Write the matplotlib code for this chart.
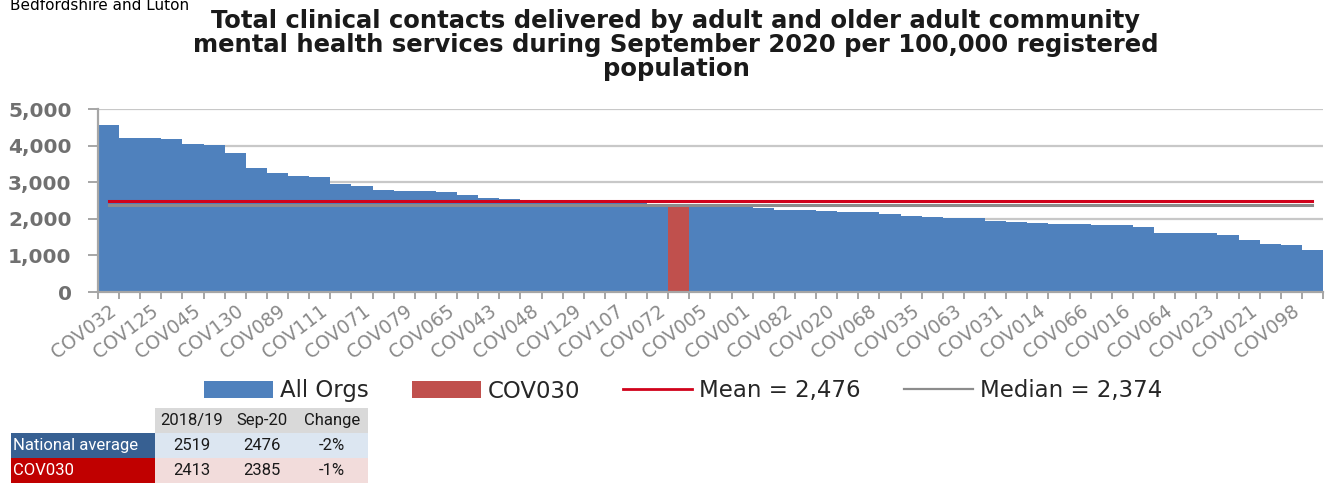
import matplotlib
matplotlib.use("Agg")
import matplotlib.pyplot as plt
from matplotlib import font_manager
from matplotlib.patches import Patch, Rectangle
from matplotlib.lines import Line2D
import numpy as np

# ---- data ----------------------------------------------------------------
values = [4560, 4220, 4200, 4170, 4040, 4010, 3790, 3400, 3240, 3170,
          3140, 2950, 2900, 2790, 2770, 2750, 2720, 2650, 2560, 2530,
          2510, 2490, 2470, 2460, 2440, 2420, 2400, 2385, 2380, 2368,
          2330, 2300, 2240, 2235, 2220, 2190, 2175, 2140, 2085, 2040,
          2030, 2010, 1950, 1910, 1880, 1870, 1850, 1840, 1820, 1780,
          1625, 1610, 1600, 1555, 1425, 1315, 1280, 1140]
tick_labels = ["COV032", "COV125", "COV045", "COV130", "COV089", "COV111",
               "COV071", "COV079", "COV065", "COV043", "COV048", "COV129",
               "COV107", "COV072", "COV005", "COV001", "COV082", "COV020",
               "COV068", "COV035", "COV063", "COV031", "COV014", "COV066",
               "COV016", "COV064", "COV023", "COV021", "COV098"]
highlight_org = "COV030"
highlight_index = 27
mean_value = 2476
median_value = 2374

table_cols = ["2018/19", "Sep-20", "Change"]
table_rows = ["National average", "COV030"]
table_vals = [["2519", "2476", "-2%"],
              ["2413", "2385", "-1%"]]

# ---- styling -------------------------------------------------------------
W, H = 1327, 483
BLUE = "#4f81bd"
RED_BAR = "#c0504d"
MEAN_RED = "#d0021b"
MEDIAN_GREY = "#8c8c8c"
GRID = "#c8c8c8"
AXIS_GREY = "#a6a6a6"

installed = {f.name for f in font_manager.fontManager.ttflist}
narrow = "Liberation Sans Narrow" if "Liberation Sans Narrow" in installed else "Roboto"

fig = plt.figure(figsize=(W / 100, H / 100), dpi=100)

def fx(px):
    return px / W

def fy(py):
    return 1 - py / H

# ---- main chart ----------------------------------------------------------
ax_left, ax_right, ax_top, ax_bottom = 98, 1323, 109, 292
ax = fig.add_axes([fx(ax_left), fy(ax_bottom), fx(ax_right - ax_left),
                   (ax_bottom - ax_top) / H])

n = len(values)
x = np.arange(n)
colors = [RED_BAR if i == highlight_index else BLUE for i in range(n)]
ax.bar(x, values, width=1.0, color=colors, linewidth=0, zorder=2)

ax.plot([0, n - 1], [median_value] * 2, color=MEDIAN_GREY, lw=2.2, zorder=3)
ax.plot([0, n - 1], [mean_value] * 2, color=MEAN_RED, lw=2.2, zorder=4)

ax.set_xlim(-0.5, n - 0.5)
ax.set_ylim(0, 5000)
ax.set_yticks(range(0, 5001, 1000))
ax.set_yticklabels([f"{v:,}" for v in range(0, 5001, 1000)])
ax.yaxis.grid(True, color=GRID, lw=1.6, zorder=0)
ax.set_axisbelow(True)

ax.set_xticks(x[::2])
ax.set_xticklabels(tick_labels)
ax.set_xticks(np.arange(n + 1) - 0.5, minor=True)
ax.tick_params(axis="x", which="major", length=0, pad=7)
ax.tick_params(axis="x", which="minor", length=5, width=1.4, color=AXIS_GREY)
ax.tick_params(axis="y", length=7, width=1.4, color=AXIS_GREY, pad=12)

for lab in ax.get_xticklabels():
    lab.set_rotation(37)
    lab.set_ha("right")
    lab.set_va("top")
    lab.set_rotation_mode("anchor")
    lab.set_fontsize(13.5)
    lab.set_color("#8a8a8a")
    lab.set_fontfamily("DejaVu Sans")

for lab in ax.get_yticklabels():
    lab.set_fontsize(14.5)
    lab.set_fontweight("bold")
    lab.set_color("#707070")
    lab.set_fontfamily("DejaVu Sans")

for side in ("top", "right"):
    ax.spines[side].set_visible(False)
for side in ("left", "bottom"):
    ax.spines[side].set_color(AXIS_GREY)
    ax.spines[side].set_linewidth(1.6)

# ---- headings ------------------------------------------------------------
fig.text(fx(10), fy(10), "Bedfordshire and Luton", fontsize=11,
         color="black", ha="left", va="baseline", family="DejaVu Sans")
fig.text(fx(676), fy(45),
         "Total clinical contacts delivered by adult and older adult community\n"
         "mental health services during September 2020 per 100,000 registered\n"
         "population",
         fontsize=17.5, fontweight="bold", color="#1a1a1a", ha="center",
         va="center", multialignment="center", linespacing=1.0,
         family="DejaVu Sans")

# ---- legend --------------------------------------------------------------
handles = [Patch(facecolor=BLUE, edgecolor="none"),
           Patch(facecolor=RED_BAR, edgecolor="none"),
           Line2D([], [], color=MEAN_RED, lw=2),
           Line2D([], [], color=MEDIAN_GREY, lw=1.6)]
labels = ["All Orgs", highlight_org, f"Mean = {mean_value:,}",
          f"Median = {median_value:,}"]
fig.legend(handles, labels, loc="center", bbox_to_anchor=(fx(683), fy(391)),
           ncol=4, frameon=False, handlelength=3.0, handleheight=0.7,
           handletextpad=0.3, columnspacing=1.9,
           prop={"family": "DejaVu Sans", "size": 16.5}, labelcolor="#262626")

# ---- summary table -------------------------------------------------------
tab = fig.add_axes([0, 0, 1, 1])
tab.set_xlim(0, W)
tab.set_ylim(H, 0)
tab.axis("off")

label_x0, col_x0, col_x1 = 11, 155, 368
col_centres = [192, 262, 332]
header_y = (408, 433)
row_ys = [(433, 458), (458, 483)]
label_bg = ["#376092", "#c00000"]
value_bg = ["#dce6f1", "#f2dcdb"]

tab.add_patch(Rectangle((col_x0, header_y[0]), col_x1 - col_x0,
                        header_y[1] - header_y[0], color="#d9d9d9", lw=0))
for cx, col in zip(col_centres, table_cols):
    tab.text(cx, sum(header_y) / 2, col, ha="center", va="center",
             fontsize=12, color="#1a1a1a", family=narrow)

for (y0, y1), row, vals, lbg, vbg in zip(row_ys, table_rows, table_vals,
                                          label_bg, value_bg):
    tab.add_patch(Rectangle((label_x0, y0), col_x0 - label_x0, y1 - y0,
                            color=lbg, lw=0))
    tab.add_patch(Rectangle((col_x0, y0), col_x1 - col_x0, y1 - y0,
                            color=vbg, lw=0))
    tab.text(label_x0 + 2, (y0 + y1) / 2, row, ha="left", va="center",
             fontsize=12, color="white", family=narrow)
    for cx, v in zip(col_centres, vals):
        tab.text(cx, (y0 + y1) / 2, v, ha="center", va="center",
                 fontsize=12, color="#1a1a1a", family=narrow)

fig.savefig("out.png", dpi=100)
